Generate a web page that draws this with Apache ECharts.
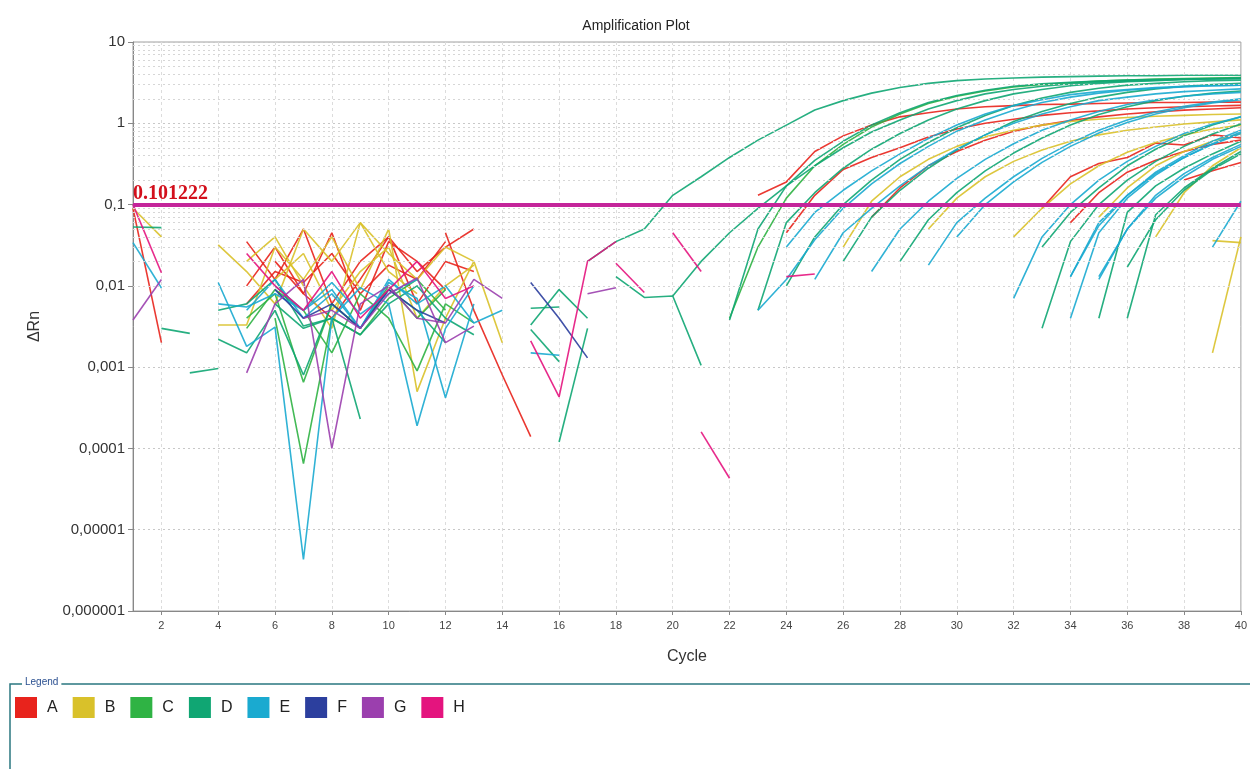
<!DOCTYPE html>
<html><head><meta charset="utf-8">
<script src="https://cdn.jsdelivr.net/npm/echarts@6/dist/echarts.min.js"></script>
<style>html,body{margin:0;padding:0;background:#fff}#c{width:1250px;height:769px}</style>
</head><body><div id="c"></div>
<script>
// ---------- DATA ----------
const groups = ['A','B','C','D','E','F','G','H'];
const xTicks = [2,4,6,8,10,12,14,16,18,20,22,24,26,28,30,32,34,36,38,40];
const yTickLabels = ['10','1','0,1','0,01','0,001','0,0001','0,00001','0,000001'];
const threshold = 0.101222;
// each curve: s = first cycle, v = ΔRn values for consecutive cycles
const curvesA = [
  {s:1, v:[0.09,0.002]},
  {s:5, v:[0.035,0.012,0.05,0.006,0.02,0.04,0.015,0.03,0.05]},
  {s:5, v:[0.01,0.03,0.008,0.045,0.005,0.035,0.02,0.009]},
  {s:6, v:[0.02,0.008,0.004,0.012,0.04,0.006,0.02,0.015]},
  {s:5, v:[0.006,0.015,0.011,0.025,0.008,0.018,0.012,0.035]},
  {s:12, v:[0.045,0.005,0.0008,0.00014]},
  {s:23, v:[0.13,0.19,0.45,0.7,0.95,1.2,1.35,1.5,1.6,1.65,1.7,1.72,1.75,1.78,1.8,1.8,1.82,1.82]},
  {s:24, v:[0.045,0.13,0.27,0.38,0.5,0.68,0.85,1.0,1.12,1.25,1.35,1.42,1.5,1.55,1.6,1.63,1.66]},
  {s:27, v:[0.07,0.16,0.3,0.45,0.62,0.8,0.95,1.08,1.2,1.3,1.38,1.45,1.5,1.55]},
  {s:33, v:[0.09,0.22,0.32,0.38,0.57,0.54,0.72,0.66]},
  {s:34, v:[0.06,0.14,0.25,0.35,0.45,0.55,0.62]},
  {s:38, v:[0.2,0.26,0.33]}
];
const curvesB = [
  {s:1, v:[0.09,0.04]},
  {s:4, v:[0.032,0.015,0.006,0.05,0.02,0.06,0.025,0.012,0.03,0.02]},
  {s:4, v:[0.0033,0.0033,0.03,0.012,0.04,0.009,0.05,0.0005,0.004,0.02,0.002]},
  {s:6, v:[0.012,0.025,0.005,0.015,0.03,0.004,0.01,0.018]},
  {s:5, v:[0.02,0.04,0.01,0.003,0.06,0.015,0.008]},
  {s:26, v:[0.03,0.11,0.22,0.36,0.52,0.68,0.82,0.95,1.05,1.12,1.18,1.22,1.25,1.28,1.3]},
  {s:29, v:[0.05,0.12,0.22,0.34,0.47,0.6,0.72,0.82,0.9,0.98,1.04,1.1]},
  {s:32, v:[0.04,0.09,0.18,0.3,0.44,0.58,0.72,0.85,0.95]},
  {s:35, v:[0.07,0.16,0.3,0.45,0.6,0.75]},
  {s:37, v:[0.04,0.14,0.3,0.5]},
  {s:39, v:[0.0015,0.04]},
  {s:39, v:[0.036,0.034]}
];
const curvesC = [
  {s:5, v:[0.004,0.008,0.00065,0.006,0.003,0.01,0.004,0.009]},
  {s:6, v:[0.004,0.000065,0.004,0.0025,0.007,0.012,0.005]},
  {s:5, v:[0.003,0.009,0.005,0.0015,0.008,0.004,0.0009,0.006,0.0035]},
  {s:22, v:[0.004,0.03,0.12,0.3,0.55,0.9,1.3,1.75,2.15,2.5,2.8,3.0,3.15,3.3,3.4,3.5,3.55,3.6,3.65]}
];
const curvesD = [
  {s:1, v:[0.053,0.052]},
  {s:2, v:[0.003,0.0026]},
  {s:3, v:[0.00085,0.00096]},
  {s:4, v:[0.005,0.006,0.012,0.0032,0.004,0.0025,0.006,0.01,0.004,0.0025]},
  {s:4, v:[0.0022,0.0015,0.005,0.0008,0.006,0.003,0.009,0.005,0.002]},
  {s:6, v:[0.006,0.003,0.004,0.00023]},
  {s:15, v:[0.0053,0.0055]},
  {s:15, v:[0.0029,0.00117]},
  {s:15, v:[0.0033,0.009,0.004]},
  {s:16, v:[0.00012,0.003]},
  {s:18, v:[0.013,0.0072,0.0075,0.00105]},
  {s:17, v:[0.02,0.035,0.05,0.13,0.22,0.38,0.62,0.95,1.46,1.9,2.35,2.75,3.1,3.35,3.5,3.6,3.7,3.75,3.8,3.85,3.85,3.9,3.9,3.9]},
  {s:22, v:[0.0038,0.05,0.17,0.35,0.6,0.95,1.35,1.8,2.2,2.55,2.85,3.05,3.2,3.3,3.4,3.45,3.5,3.55,3.6]},
  {s:20, v:[0.0075,0.02,0.045,0.09,0.17,0.3,0.5,0.78,1.1,1.5,1.9,2.3,2.6,2.85,3.05,3.2,3.3,3.4,3.45,3.5,3.55]},
  {s:23, v:[0.005,0.06,0.14,0.28,0.48,0.75,1.1,1.5,1.9,2.3,2.6,2.9,3.1,3.25,3.35,3.45,3.5,3.55]},
  {s:24, v:[0.01,0.04,0.1,0.2,0.36,0.58,0.88,1.25,1.65,2.05,2.4,2.7,2.95,3.1,3.25,3.35,3.4]},
  {s:26, v:[0.02,0.07,0.15,0.28,0.47,0.72,1.05,1.4,1.75,2.1,2.4,2.65,2.85,3.0,3.1]},
  {s:28, v:[0.02,0.065,0.14,0.26,0.43,0.66,0.95,1.28,1.6,1.9,2.15,2.35,2.5]},
  {s:33, v:[0.003,0.035,0.1,0.2,0.34,0.52,0.74,0.98]},
  {s:33, v:[0.03,0.08,0.16,0.3,0.48,0.7,0.95,1.2]},
  {s:35, v:[0.004,0.08,0.17,0.28,0.42,0.6]},
  {s:36, v:[0.004,0.075,0.16,0.28,0.45]},
  {s:36, v:[0.017,0.065,0.15,0.27,0.42]}
];
const curvesE = [
  {s:1, v:[0.034,0.0094]},
  {s:4, v:[0.011,0.0018,0.0031,0.0000043,0.004,0.0095,0.006,0.00019,0.003,0.01]},
  {s:5, v:[0.005,0.012,0.004,0.008,0.003,0.011,0.007,0.00042,0.006]},
  {s:6, v:[0.01,0.005,0.009,0.003,0.012,0.006,0.01,0.0035,0.005]},
  {s:4, v:[0.006,0.0055,0.008,0.005,0.011,0.0045,0.008,0.012]},
  {s:15, v:[0.0015,0.0014]},
  {s:23, v:[0.005,0.012,0.037,0.09,0.18,0.32,0.52,0.8,1.1,1.45,1.8,2.1,2.35,2.55,2.7,2.8,2.9,2.95]},
  {s:24, v:[0.03,0.08,0.15,0.26,0.42,0.65,0.95,1.3,1.65,1.95,2.25,2.45,2.6,2.75,2.85,2.9,2.95]},
  {s:25, v:[0.012,0.045,0.09,0.17,0.3,0.48,0.72,1.0,1.3,1.6,1.9,2.1,2.3,2.45,2.55,2.65]},
  {s:27, v:[0.015,0.05,0.11,0.21,0.36,0.56,0.82,1.1,1.4,1.7,1.95,2.15,2.3,2.4]},
  {s:29, v:[0.018,0.06,0.12,0.22,0.37,0.57,0.82,1.1,1.38,1.62,1.82,2.0]},
  {s:30, v:[0.04,0.1,0.19,0.33,0.52,0.76,1.02,1.3,1.55,1.78,1.95]},
  {s:32, v:[0.007,0.04,0.1,0.2,0.34,0.52,0.75,0.98,1.2]},
  {s:34, v:[0.004,0.045,0.12,0.23,0.38,0.56,0.78]},
  {s:34, v:[0.013,0.06,0.13,0.25,0.4,0.6,0.82]},
  {s:34, v:[0.013,0.055,0.13,0.24,0.38,0.55,0.75]},
  {s:35, v:[0.012,0.05,0.13,0.24,0.38,0.55]},
  {s:35, v:[0.013,0.05,0.12,0.22,0.36,0.52]},
  {s:39, v:[0.03,0.11]}
];
const curvesF = [
  {s:6, v:[0.009,0.004,0.006,0.003,0.009,0.005,0.0035]},
  {s:15, v:[0.011,0.004,0.0013]}
];
const curvesG = [
  {s:1, v:[0.0038,0.012]},
  {s:5, v:[0.00085,0.006,0.012,0.0001,0.006,0.01,0.004,0.0035,0.012,0.007]},
  {s:7, v:[0.004,0.005,0.003,0.008,0.0125,0.002,0.0032]},
  {s:17, v:[0.008,0.0095]}
];
const curvesH = [
  {s:1, v:[0.1,0.0145]},
  {s:5, v:[0.025,0.01,0.005,0.015,0.004,0.009,0.02,0.007,0.01]},
  {s:15, v:[0.0021,0.00043,0.02,0.035]},
  {s:18, v:[0.019,0.0083]},
  {s:20, v:[0.045,0.015]},
  {s:21, v:[0.00016,0.000043]},
  {s:24, v:[0.013,0.014]}
];

// ---------- CHART ----------
const colors = {A:'#e8231c',B:'#d9c12a',C:'#2fb344',D:'#10a673',E:'#1aaad0',F:'#2c3f9e',G:'#9b3fae',H:'#e4147e'};
const allCurves = {A:curvesA,B:curvesB,C:curvesC,D:curvesD,E:curvesE,F:curvesF,G:curvesG,H:curvesH};
const series = [];
groups.forEach(g => {
  allCurves[g].forEach(c => {
    series.push({
      name: g, type: 'line', color: colors[g], symbol: 'none', silent: true,
      lineStyle: {width: 1.6, opacity: 0.9},
      data: c.v.map((v, i) => [c.s + i, v]),
      z: 3
    });
  });
});
// minor log grid lines (2..9 per decade)
const minorLines = [];
for (let e = -6; e < 1; e++) for (let d = 2; d <= 9; d++) minorLines.push({yAxis: d * Math.pow(10, e)});
series.unshift({
  name: 'grid', type: 'line', data: [], silent: true, z: 1,
  markLine: {silent: true, symbol: 'none', animation: false, label: {show: false},
    lineStyle: {color: '#d6d6d6', type: [2, 3], width: 1}, data: minorLines}
});
series.push({
  name: 'thr', type: 'line', data: [], z: 5,
  markLine: {silent: true, symbol: 'none', animation: false,
    lineStyle: {color: '#c4259a', type: 'solid', width: 4},
    label: {show: true, position: 'insideStartTop', formatter: '0.101222', distance: [0, 1],
      color: '#d3101c', fontFamily: 'Liberation Serif', fontWeight: 'bold', fontSize: 20},
    data: [{yAxis: threshold}]}
});

const chart = echarts.init(document.getElementById('c'), null, {renderer: 'canvas'});
chart.setOption({
  animation: false,
  backgroundColor: '#fff',
  title: {text: 'Amplification Plot', left: 631, top: 14, textAlign: 'center',
    textStyle: {fontSize: 14, fontWeight: 'normal', color: '#222', fontFamily: 'Liberation Sans'}},
  grid: {left: 133, right: 4, top: 42, bottom: 158, show: true, borderColor: '#a0a0a0', borderWidth: 1},
  xAxis: {
    type: 'value', min: 1, max: 40,
    name: 'Cycle', nameLocation: 'middle', nameGap: 38,
    nameTextStyle: {fontSize: 16, color: '#333', fontFamily: 'Liberation Sans'},
    axisLine: {lineStyle: {color: '#888'}},
    axisTick: {show: true, length: 4, customValues: xTicks, lineStyle: {color: '#888'}},
    axisLabel: {customValues: xTicks, fontSize: 11, color: '#444', margin: 9,
      fontFamily: 'Liberation Sans Narrow, Liberation Sans'},
    splitLine: {show: true, lineStyle: {color: '#dcdcdc', type: [3, 3]}}
  },
  yAxis: {
    type: 'log', logBase: 10, min: 0.000001, max: 10,
    name: 'ΔRn', nameLocation: 'middle', nameGap: 90, nameRotate: 90,
    nameTextStyle: {fontSize: 16, color: '#333', fontFamily: 'Liberation Sans'},
    axisLine: {show: true, lineStyle: {color: '#888'}},
    axisTick: {show: true, length: 5, lineStyle: {color: '#888'}},
    axisLabel: {fontSize: 15, color: '#333', margin: 8, fontFamily: 'Liberation Sans',
      formatter: v => yTickLabels[1 - Math.round(Math.log10(v))]},
    splitLine: {show: true, lineStyle: {color: '#c8c8c8', type: [2, 3]}}
  },
  legend: {
    data: groups, left: 10, top: 692, icon: 'rect', itemWidth: 22, itemHeight: 21, itemGap: 15,
    selectedMode: false,
    textStyle: {fontSize: 16, color: '#222', fontFamily: 'Liberation Sans', padding: [0, 0, 0, 5]}
  },
  graphic: [
    {type: 'rect', shape: {x: 10, y: 684, width: 1250, height: 100}, silent: true,
      style: {fill: 'none', stroke: '#2a7780', lineWidth: 1.5}},
    {type: 'text', x: 22, y: 677, silent: true,
      style: {text: 'Legend', fontSize: 10, fill: '#2a4f90', backgroundColor: '#fff', padding: [0, 3], fontFamily: 'Liberation Sans'}}
  ],
  series: series
});
</script></body></html>
